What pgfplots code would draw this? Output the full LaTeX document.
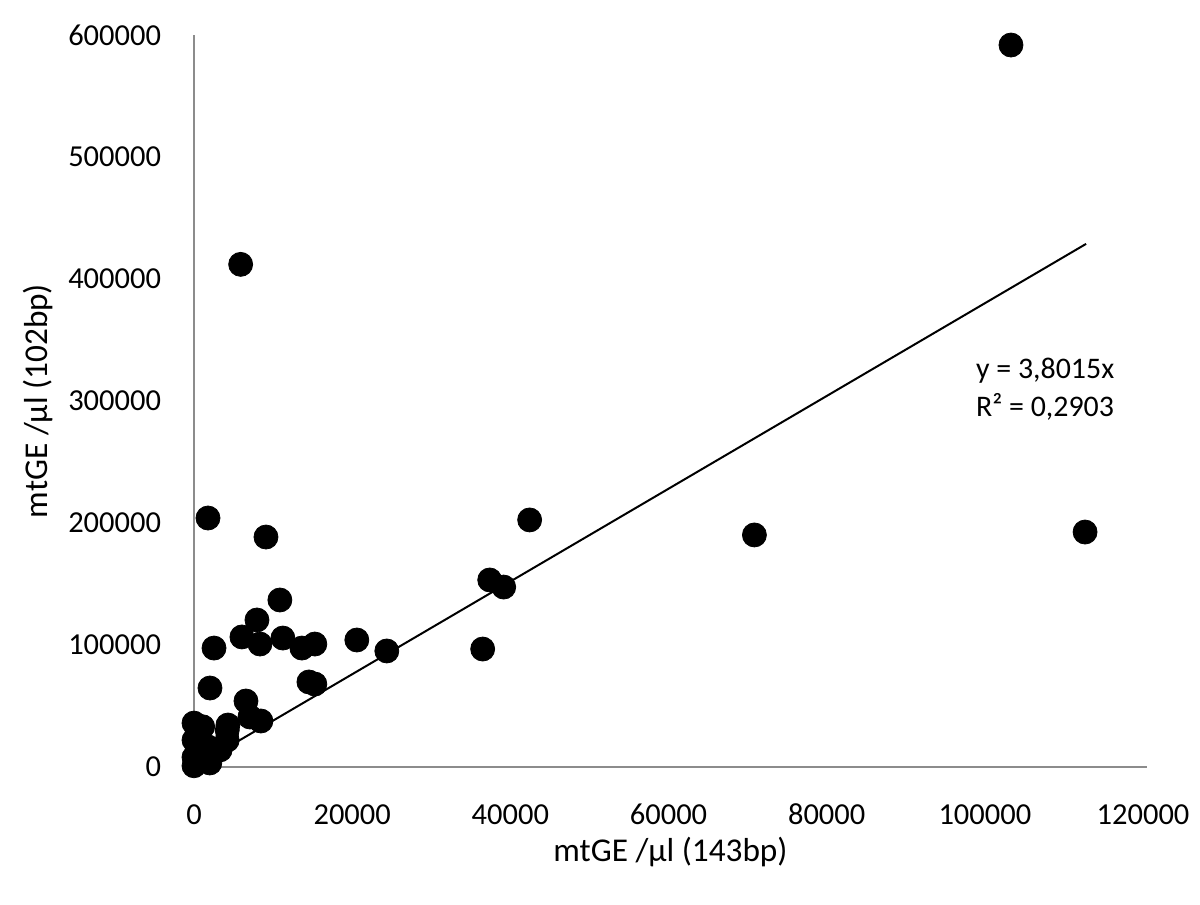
\documentclass[border=0pt]{standalone}
\usepackage{fontspec}
\setmainfont{Carlito}
\usepackage{pgfplots}
\pgfplotsset{compat=1.18}
\begin{document}
\begin{tikzpicture}
\begin{axis}[
    at={(0,0)}, anchor=origin,
    scale only axis,
    width=476.5bp, height=366bp,
    xmin=0, xmax=120500, ymin=0, ymax=600000,
    axis lines=left,
    axis line style={draw=gray!90, line width=1pt, -},
    xtick={0,20000,40000,60000,80000,100000,120000},
    xticklabels={0,20000,40000,60000,80000,100000,120000},
    ytick={0,100000,200000,300000,400000,500000,600000},
    yticklabels={0,100000,200000,300000,400000,500000,600000},
    major tick length=0pt,
    scaled ticks=false,
    tick label style={font=\fontsize{15.3}{17}\selectfont},
    xticklabel style={anchor=base, yshift=-28.5bp},
    yticklabel style={anchor=east, xshift=-13bp},
    xlabel={mtGE /µl (143bp)},
    ylabel={mtGE /µl (102bp)},
    label style={font=\fontsize{16.7}{19}\selectfont},
    xlabel style={at={(axis description cs:0.5,-0.1161)}, anchor=center},
    ylabel style={at={(axis description cs:-0.1637,0.5)}, anchor=center},
    clip=false,
]
\addplot[black, line width=1pt] coordinates {(0,0) (112800,428800)};
\addplot[only marks, mark=*, mark size=6bp, black] coordinates {
(103300,591800) (5900,412000) (1770,204100) (9100,188500)
(42440,202500) (70860,190200) (112670,192600) (37390,153300)
(39160,147500) (36500,96700) (24380,95100) (20590,104100)
(10860,136900) (7960,120500) (6060,106600) (8340,100800)
(11240,105700) (13640,97500) (15280,100800) (2530,97500)
(14530,69700) (15280,68000) (2020,64750) (6570,54100)
(8460,37700) (7070,41000) (4290,34400)
(0,36000) (1100,33000) (0,22000) (0,8000) (0,1000)
(2000,3300) (4200,30000) (4200,22000) (3300,14000)
(2400,11500) (1800,16400) (500,15000) (200,4000)
};
\node[anchor=west, align=left, font=\fontsize{15}{19}\selectfont] at (axis cs:98000,310000) {y = 3,8015x\\R² = 0,2903};
\end{axis}
\useasboundingbox (-97bp,-69bp) rectangle (503bp,383.5bp);
\end{tikzpicture}
\end{document}
